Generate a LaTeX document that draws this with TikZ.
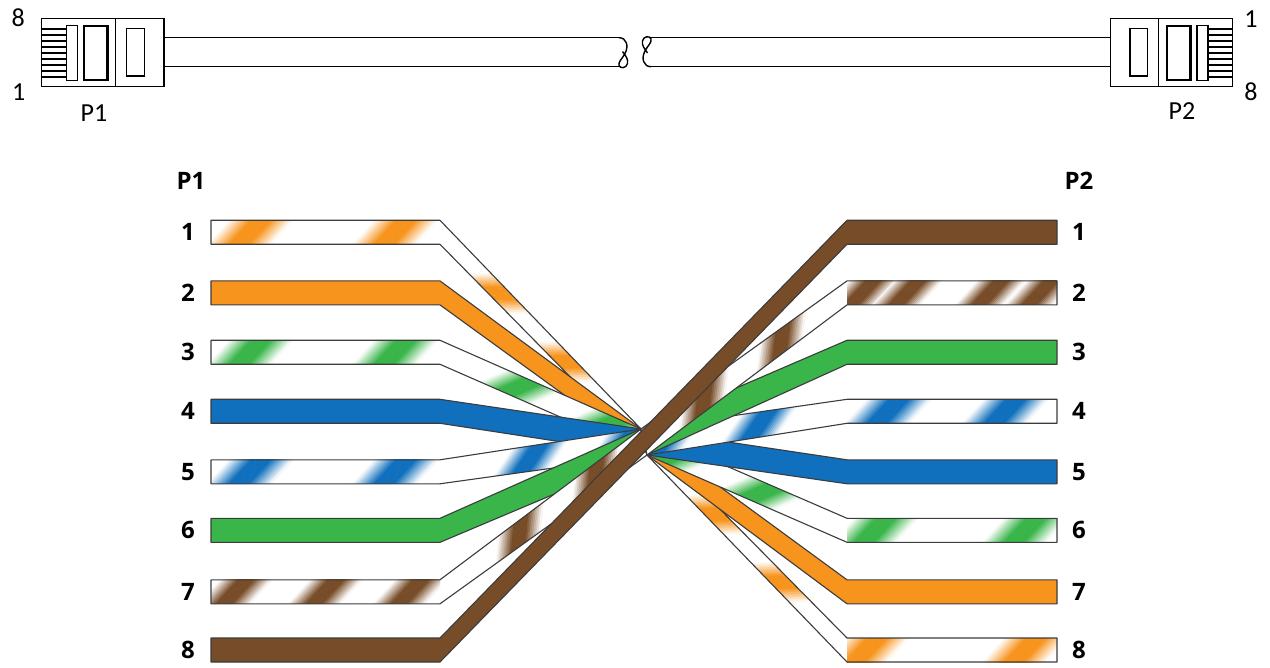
\documentclass[tikz,border=0pt]{standalone}
\usepackage{fontspec}
\setmainfont{Carlito}
\newfontfamily\numfont{Open Sans}
\usetikzlibrary{calc}
\definecolor{wo}{HTML}{F7941D}
\definecolor{wg}{HTML}{39B54A}
\definecolor{wb}{HTML}{1170BD}
\definecolor{wn}{HTML}{774C28}
\definecolor{rim}{HTML}{3C3C3C}
\def\Lx{641}\def\Ly{429}\def\Rx{647}\def\Ry{455}
\tikzset{
  band/.style={draw=rim, line width=1.1pt, line join=round},
  lab/.style={font=\numfont\bfseries\fontsize{24}{29}\selectfont, inner sep=0pt},
  tlab/.style={font=\fontsize{26}{30}\selectfont, inner sep=0pt},
  plugline/.style={draw=black, line width=1.5pt},
  cable/.style={draw=black, line width=1.4pt}
}
% soft diagonal stripes in local coordinates (band between b=0 and b=24)
\newcommand\twist[3]{%
  \foreach \cc in {#2}{%
    \foreach \kk in {-12,...,11}{%
      \pgfmathsetmacro\xa{\cc+\kk*#3/12}%
      \pgfmathsetmacro\sw{#3/12+0.6}%
      \pgfmathtruncatemacro\pp{max(0,min(100,(1-abs((\kk+0.5)/12))*145))}%
      \fill[#1!\pp!white] (\xa-44,60) -- (\xa+48,-40) -- (\xa+48+\sw,-40) -- (\xa-44+\sw,60) -- cycle;%
    }%
  }%
}
\newcommand\solidL[2]{%
  \draw[band, fill=#2] (211,#1) -- (440,#1) -- (\Lx,\Ly) -- (\Rx,\Ry) -- (440,#1+24) -- (211,#1+24) -- cycle;}
\newcommand\solidR[2]{%
  \draw[band, fill=#2] (1057,#1) -- (847,#1) -- (\Lx,\Ly) -- (\Rx,\Ry) -- (847,#1+24) -- (1057,#1+24) -- cycle;}
\newcommand\stripL[4]{%
  \fill[white] (211,#1) -- (440,#1) -- (\Lx,\Ly) -- (\Rx,\Ry) -- (440,#1+24) -- (211,#1+24) -- cycle;
  \begin{scope}
    \clip (211,#1) rectangle (440,#1+24);
    \begin{scope}[shift={(0,#1)}]\twist{#2}{#3}{#4}\end{scope}
  \end{scope}
  \begin{scope}
    \clip (440,#1) -- (\Lx,\Ly) -- (\Rx,\Ry) -- (440,#1+24) -- cycle;
    \begin{scope}[shift={(440,#1)}, rotate={atan2(#1-\Ly,\Lx-440)}]
      \twist{#2}{90,185}{28}
    \end{scope}
  \end{scope}
  \draw[band] (211,#1) -- (440,#1) -- (\Lx,\Ly) -- (\Rx,\Ry) -- (440,#1+24) -- (211,#1+24) -- cycle;}
\newcommand\stripR[4]{%
  \pgfmathsetmacro\bl{veclen(847-\Lx,#1-\Ly)}%
  \pgfmathsetmacro\da{\bl-90}\pgfmathsetmacro\db{\bl-185}%
  \fill[white] (1057,#1) -- (847,#1) -- (\Lx,\Ly) -- (\Rx,\Ry) -- (847,#1+24) -- (1057,#1+24) -- cycle;
  \begin{scope}
    \clip (847,#1) rectangle (1057,#1+24);
    \begin{scope}[shift={(0,#1)}]\twist{#2}{#3}{#4}\end{scope}
  \end{scope}
  \begin{scope}
    \clip (847,#1) -- (\Lx,\Ly) -- (\Rx,\Ry) -- (847,#1+24) -- cycle;
    \begin{scope}[shift={(\Lx,\Ly)}, rotate={atan2(\Ly-#1,847-\Lx)}]
      \twist{#2}{\da,\db}{28}
    \end{scope}
  \end{scope}
  \draw[band] (1057,#1) -- (847,#1) -- (\Lx,\Ly) -- (\Rx,\Ry) -- (847,#1+24) -- (1057,#1+24) -- cycle;}
\newcommand\plug{%
  \draw[plugline] (41.7,18.3) rectangle (164,86.7);
  \draw[plugline] (115.7,18.3) -- (115.7,86.7);
  \foreach \ii in {0,...,8}{\draw[line width=1.1pt] (41.7,29+6*\ii) -- (66.3,29+6*\ii);}
  \draw[line width=1.3pt] (66.3,25.7) rectangle (77.3,80.7);
  \draw[line width=2.6pt] (84,26) rectangle (107.3,80);
  \draw[plugline] (126.7,28.3) rectangle (144.3,76);}
\newcommand\cablebreak{%
  \draw[cable] (619,37.7) .. controls (626.5,37.7) and (629,46) .. (625,53.5)
    .. controls (622,59) and (618,62) .. (619,65.5)
    .. controls (620,68.8) and (626.5,68.5) .. (627.5,63.5)
    .. controls (628.3,59.5) and (626,56) .. (622.5,51.5);}
\begin{document}
\begin{tikzpicture}[x=1pt,y=-1pt]
\useasboundingbox (0,0) rectangle (1270,668);
% ---- top: patch cable with plugs
\plug
\begin{scope}[shift={(1274.4,0)}, xscale=-1]\plug\end{scope}
\draw[cable] (164,37.7) -- (619,37.7);
\draw[cable] (164,66.7) -- (621,66.7);
\cablebreak
\begin{scope}[rotate around={180:(635,52.2)}]\cablebreak\end{scope}
\draw[cable] (651,66.7) -- (1110.4,66.7);
\draw[cable] (649,37.7) -- (1110.4,37.7);
\node[tlab] (t8l) at (18.3,18) {8};
\node[tlab] (t1l) at (18.7,92.5) {1};
\node[tlab] (tp1) at (94,113) {P1};
\node[tlab] (t1r) at (1251,19) {1};
\node[tlab] (t8r) at (1251,91.7) {8};
\node[tlab] (tp2) at (1182,111) {P2};
% ---- wiring diagram
\stripL{220.3}{wo}{250,395}{32}
\solidL{280.9}{wo}
\stripL{340.3}{wg}{250,395}{32}
\solidL{399.3}{wb}
\stripL{459.8}{wb}{250,395}{32}
\solidL{518.3}{wg}
\stripL{579.8}{wn}{235,325,410}{26}
\stripR{638}{wo}{866,1025}{32}
\solidR{579.8}{wo}
\stripR{518.3}{wg}{875,1025}{32}
\solidR{459.8}{wb}
\stripR{399.3}{wb}{888,1005}{32}
\solidR{340.3}{wg}
\stripR{280.9}{wn}{862,907,990,1040}{24}
\draw[band, fill=wn] (211,638) -- (440,638) -- (847,220.3) -- (1057,220.3) -- (1057,244.3) -- (847,244.3) -- (440,662) -- (211,662) -- cycle;
% labels
\node[lab] (p1) at (191,181) {P1};
\node[lab] (p2) at (1079,181) {P2};
\foreach \nn/\yy in {1/220.3,2/280.9,3/340.3,4/399.3,5/459.8,6/518.3,7/579.8,8/638}{
  \node[lab] (l\nn) at (188,\yy+12) {\nn};
  \node[lab] (r\nn) at (1079,\yy+12) {\nn};
}
\end{tikzpicture}
\end{document}
